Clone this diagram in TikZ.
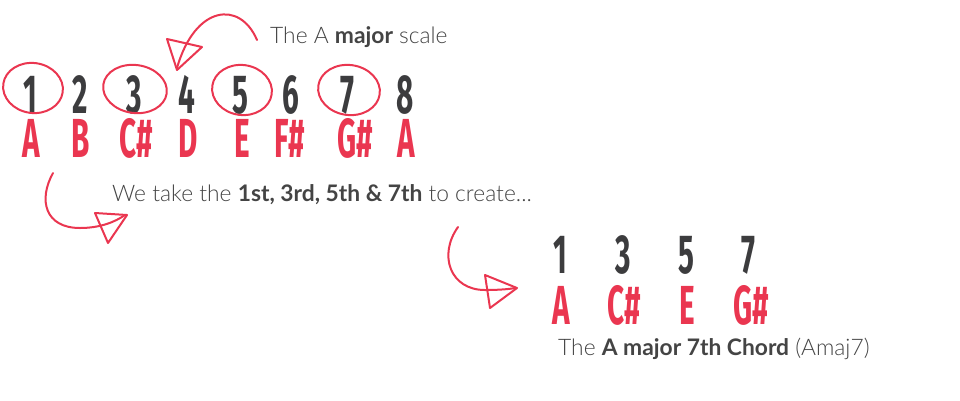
\documentclass[tikz,border=0pt]{standalone}
\usepackage{fontspec}
\usepackage{graphicx}
\setmainfont{Lato}[UprightFont=* Light, BoldFont=* Bold]
\newfontfamily\numfont{Fira Sans}
\definecolor{dgray}{HTML}{3C3C3E}
\definecolor{tgray}{HTML}{444444}
\definecolor{myred}{HTML}{EA3650}
\newcommand\cond[1]{\scalebox{0.54}[1]{\numfont\bfseries\fontsize{55}{55}\selectfont #1}}
\tikzset{
  digit/.style={inner sep=0pt, anchor=base, text=dgray},
  note/.style={inner sep=0pt, anchor=base, text=myred},
  label/.style={inner sep=0pt, anchor=base west, text=tgray, font=\fontsize{22.8}{23}\selectfont},
  redline/.style={draw=myred, line width=2pt, line cap=round, line join=round},
}
\begin{document}
\begin{tikzpicture}[x=1pt,y=-1pt]
\useasboundingbox (0,0) rectangle (960,400);
% scale row
\foreach \d/\x in {1/30,2/80,3/134,4/187,5/240,6/291,7/347,8/405}
  \node[digit] (n\d) at (\x,113) {\cond{\d}};
\foreach \i/\l/\x in {1/A/31,2/B/81,3/C\#/136,4/D/188,5/E/242,6/F\#/290,7/G\#/355,8/A/406}
  \node[note] (l\i) at (\x,157) {\cond{\l}};
% circles (hand-drawn loops)
\draw[redline] (33,88) ellipse [x radius=30, y radius=25, rotate=-8];
\draw[redline] (135,89) ellipse [x radius=32, y radius=24, rotate=-8];
\draw[redline] (242,90) ellipse [x radius=30, y radius=25, rotate=-8];
\draw[redline] (349,90) ellipse [x radius=31, y radius=25, rotate=-8];
% labels
\node[label] (t1) at (270,43) {The A \textbf{major} scale};
\node[label] (t2) at (112,201) {We take the \textbf{1st, 3rd, 5th \& 7th} to create...};
% chord
\foreach \d/\x in {1/560,3/623,5/686,7/748}
  \node[digit] (c\d) at (\x,273) {\cond{\d}};
\foreach \i/\l/\x in {1/A/561,3/C\#/624,5/E/687,7/G\#/751}
  \node[note] (k\i) at (\x,324) {\cond{\l}};
\node[label] (t3) at (558,355) {The \textbf{A major 7th Chord} (Amaj7)};
% arrows
\coordinate (a1s) at (257,40);
\coordinate (a1e) at (177,68);
\draw[redline] (a1s) .. controls (240,0) and (195,5) .. (a1e);
\draw[redline] (167,39) -- (202,47) -- (177,70) -- cycle;
\coordinate (a2s) at (53,173);
\coordinate (a2e) at (125,215);
\draw[redline] (a2s) .. controls (38,200) and (45,228) .. (80,228) .. controls (100,228) and (115,222) .. (a2e);
\draw[redline] (95,213) -- (127,215) -- (108,243) -- cycle;
\coordinate (a3s) at (458,227);
\coordinate (a3e) at (515,288);
\draw[redline] (a3s) .. controls (438,255) and (450,290) .. (485,290) .. controls (500,290) and (510,289) .. (a3e);
\draw[redline] (485,275) -- (517,288) -- (490,308) -- cycle;
\end{tikzpicture}
\end{document}
